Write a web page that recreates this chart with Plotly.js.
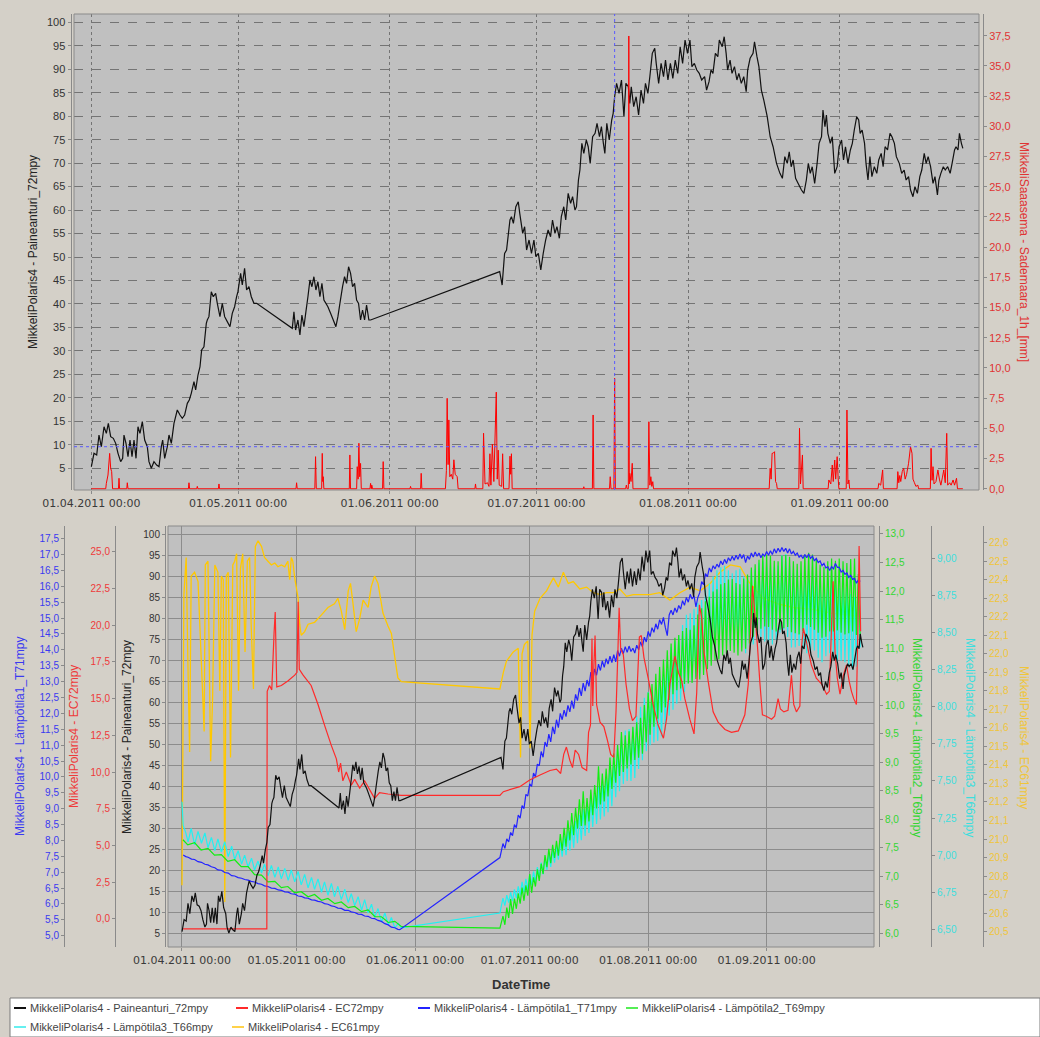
<!DOCTYPE html>
<html>
<head>
<meta charset="utf-8">
<script src="https://cdn.plot.ly/plotly-3.0.1.min.js"></script>
<style>
  html, body { margin: 0; padding: 0; background: #d4d0c8; }
  #chart { width: 1040px; height: 1037px; }
</style>
</head>
<body>
<div id="chart"></div>
<script>
// ---- Measurements, [day since 01.04.2011 00:00, value] ----

// MikkeliPolaris4 - Paineanturi_72mpy
const paineanturi = [
[0.01,5.34],[0.55,8.19],[1.10,7.83],[1.57,12.09],[2.05,9.60],[2.60,13.86],[3.07,12.45],[3.48,14.58],[3.96,11.73],[4.50,11.39],
[4.98,10.32],[5.46,8.19],[6.00,6.41],[6.41,7.13],[6.68,12.09],[7.09,10.32],[7.50,7.47],[7.91,11.03],[8.32,7.47],[8.73,11.03],
[9.14,7.13],[9.54,13.86],[9.95,12.45],[10.43,14.93],[10.91,11.03],[11.45,9.60],[11.79,6.41],[12.27,5.00],[12.81,6.41],[13.36,5.70],
[13.84,5.34],[14.31,9.60],[14.59,11.03],[15.00,7.13],[15.54,9.60],[15.88,12.09],[16.36,10.32],[16.90,14.58],[17.58,17.42],[18.13,16.35],
[18.60,15.65],[19.08,16.35],[19.63,18.84],[20.03,19.55],[20.44,20.97],[20.99,23.45],[21.33,21.68],[21.81,24.87],[22.22,26.64],[22.56,30.20],
[23.03,30.90],[23.51,35.88],[23.71,36.59],[24.05,37.30],[24.53,42.62],[24.94,41.55],[25.42,42.27],[25.76,40.14],[26.30,37.30],[26.78,40.14],
[27.26,37.30],[27.80,36.24],[28.35,35.16],[28.82,38.01],[29.30,39.42],[29.71,41.55],[29.98,42.62],[30.53,46.53],[30.87,44.04],[31.34,47.60],
[31.75,42.98],[32.23,43.68],[32.71,41.55],[33.25,40.14],[33.80,40.14],
[41.09,34.82],[41.43,38.36],[41.77,34.46],[42.24,36.59],[42.65,33.39],[43.06,37.65],[43.47,35.16],[43.88,38.36],[44.29,41.55],[44.70,45.11],
[45.11,43.68],[45.51,45.81],[45.92,42.98],[46.33,44.74],[46.74,41.55],[47.15,44.40],[47.56,40.85],[47.97,40.14],[48.37,39.42],[48.92,38.01],
[49.47,36.59],[50.01,35.16],[50.42,37.30],[50.83,40.14],[51.37,43.68],[51.78,45.81],[52.19,44.40],[52.60,47.94],[53.01,46.53],[53.42,43.68],
[53.83,44.40],[54.24,40.85],[54.64,40.14],[55.05,36.59],[55.46,38.72],[55.87,36.59],[56.28,39.78],[56.75,36.59],[57.10,36.59],
[83.5,46.90],[84.0,44.04],[84.5,50.79],[84.9,51.50],[85.6,57.89],[85.9,58.60],[86.3,57.18],[86.8,60.72],[87.3,61.78],[87.6,59.31],
[88.2,55.05],[88.6,56.46],[89.0,51.50],[89.5,53.63],[90.0,50.79],[90.5,53.63],[90.9,50.07],[91.4,50.79],[91.9,47.24],[92.4,50.79],
[92.9,53.63],[93.4,55.76],[93.9,54.34],[94.3,57.89],[94.8,55.05],[95.2,56.46],[95.7,53.99],[96.1,58.60],[96.6,60.72],[97.0,57.89],
[97.5,63.57],[98.0,61.43],[98.4,62.85],[98.9,60.01],[99.2,60.72],[99.6,66.41],[99.9,68.54],[100.3,74.22],[100.7,72.09],[101.2,74.93],
[101.6,73.50],[102.0,69.96],[102.5,75.63],[103.0,76.35],[103.4,78.48],[103.9,75.63],[104.3,77.77],[104.7,74.22],[105.0,72.09],[105.4,78.48],
[105.9,74.93],[106.4,79.19],[106.7,80.61],[107.0,84.15],[107.4,87.00],[107.9,84.87],[108.4,87.71],[108.9,79.90],[109.3,87.00],[109.8,86.28],
[110.1,82.74],[110.4,86.28],[110.9,82.03],[111.4,84.15],[111.9,80.25],[112.4,85.57],[112.9,82.74],[113.3,87.00],[113.8,84.87],[114.2,88.42],
[114.7,93.39],[115.2,94.46],[115.5,91.26],[116.0,87.00],[116.5,91.26],[117.0,88.42],[117.4,91.96],[117.9,87.71],[118.4,91.26],[118.9,88.07],
[119.4,91.96],[119.9,89.13],[120.4,94.80],[120.9,91.26],[121.4,96.22],[121.9,93.39],[122.4,96.22],[122.8,90.54],[123.3,91.26],[123.8,89.84],
[124.3,89.13],[124.8,87.71],[125.4,88.42],[125.8,85.57],[126.3,87.35],[126.7,89.84],[127.1,89.13],[127.6,93.39],[128.1,92.68],[128.4,96.22],
[129.0,94.80],[129.4,96.93],[129.8,93.39],[130.1,89.84],[130.6,91.96],[131.0,89.13],[131.5,90.55],[132.0,87.71],[132.4,89.13],[132.9,87.00],
[133.4,88.42],[133.9,85.22],[134.2,89.84],[134.7,92.33],[135.3,93.39],[135.6,95.86],[136.1,92.68],[136.5,90.55],[137.0,85.57],[137.5,83.44],
[138.2,79.89],[138.8,75.63],[139.4,73.50],[140.1,69.96],[140.8,67.83],[141.3,66.77],[141.8,71.38],[142.3,69.96],[142.7,72.43],[143.1,69.24],
[143.5,70.67],[144.0,66.77],[144.5,65.70],[145.2,64.28],[145.7,63.57],[146.2,66.41],[146.6,69.96],[147.0,67.83],[147.4,69.24],[147.9,65.70],
[148.4,69.96],[148.8,74.22],[149.3,75.63],[149.6,81.31],[150.0,77.76],[150.3,80.25],[150.6,76.35],[151.1,74.22],[151.5,75.63],[152.0,67.83],
[152.5,69.24],[152.9,73.50],[153.4,74.93],[153.8,70.67],[154.2,73.50],[154.7,69.96],[155.2,72.80],[155.6,74.22],[156.0,77.06],[156.5,79.89],
[156.9,79.18],[157.2,76.35],[157.6,77.06],[158.1,74.22],[158.4,69.96],[158.8,66.41],[159.2,71.38],[159.6,67.12],[160.1,69.24],[160.6,67.83],
[161.0,70.67],[161.5,72.09],[161.9,69.24],[162.3,73.50],[162.8,72.80],[163.3,76.35],[163.7,75.63],[164.2,74.22],[164.6,71.38],[165.2,69.96],
[165.7,67.83],[166.2,68.54],[166.6,66.41],[167.1,67.12],[167.5,64.28],[168.0,62.85],[168.4,64.99],[168.9,63.57],[169.4,67.12],[169.8,68.54],
[170.3,72.09],[170.7,69.96],[171.1,71.38],[171.6,69.24],[172.1,65.70],[172.5,67.12],[173.0,63.21],[173.3,66.41],[173.7,67.83],[174.2,69.24],
[174.6,68.54],[175.1,69.24],[175.6,67.83],[176.0,69.96],[176.5,72.80],[176.8,73.50],[177.2,72.80],[177.5,76.35],[177.9,74.22],[178.2,73.14]
];

// MikkeliSaaasema - Sademaara_1h_[mm]
const sademaara = [
[0,0],[2.95,0],[3.07,0.45],[3.41,1.14],[3.75,2.93],[3.96,1.70],[4.16,1.42],[4.35,0],[5.55,0],[5.66,0.87],[5.78,0],
[7.25,0],[7.36,0.5],[7.5,0],[19.85,0],[19.97,0.5],[20.1,0],[21.55,0],[21.67,0.2],[21.8,0],[25.98,0],[26.10,0.4],[26.22,0],
[41.85,0],[41.97,0.5],[42.1,0],[45.7,0],[45.85,2.66],[46.0,0],[47.1,0],[47.22,2.93],[47.32,0.6],[47.42,1.0],[47.55,0],
[52.75,0],[52.87,2.80],[53.0,0],[54.25,0],[54.37,1.83],[54.55,0.8],[54.71,3.77],[54.88,1.0],[55.05,2.1],[55.2,0],
[56.98,0],[57.10,0.45],[57.25,0],[57.35,0.3],[57.5,0],[59.55,0],[59.68,2.25],[59.82,0],[65.15,0],[65.27,0.2],[65.4,0],
[67.33,0],[67.45,1.28],[67.58,0],[72.4,0],[72.6,1.5],[72.76,7.49],[72.95,2.0],[73.10,5.7],[73.3,1.0],[73.6,1.2],[73.9,0.8],
[74.13,2.4],[74.4,1.2],[74.81,1.0],[75.0,0],[78.43,0],[78.55,0.4],[78.68,0],[80.05,0],[80.2,4.6],[80.5,0.4],[81.0,0.5],
[81.3,0.2],[81.5,2.9],[81.7,0.3],[82.0,3.7],[82.3,0.6],[82.8,8.0],[83.0,0.8],[83.2,3.2],[83.4,0.3],[83.9,0.2],[84.1,2.9],
[84.3,0],[85.4,0],[85.6,2.7],[85.75,1.2],[85.9,2.9],[86.05,0],[100.6,0],[100.7,0.17],[100.8,0],[102.45,0],[102.6,6.11],
[102.75,0],[105.95,0],[106.1,1.0],[106.25,0],[106.85,0],[107.0,9.15],[107.15,0],[109.25,0],[109.4,0.31],[109.55,0],
[109.8,0],[109.9,37.48],[110.0,0.4],[110.1,1.28],[110.35,0.6],[110.6,2.11],[110.75,0],[113.85,0],[114.0,5.55],[114.2,0.3],
[114.4,1.0],[114.6,0.2],[114.8,0.59],[114.95,0],[138.6,0],[138.8,1.70],[139.0,0.8],[139.2,2.94],[139.4,2.94],[139.7,3.07],
[139.9,0.6],[140.1,0.45],[140.25,0],[144.65,0],[144.8,5.01],[145.0,0.4],[145.4,2.80],[145.55,0],[150.65,0],[150.8,0.73],
[151.2,0.4],[151.5,1.97],[151.7,0.6],[152.0,2.38],[152.2,0.8],[152.5,2.66],[152.7,0.9],[152.85,0],[154.35,0],[154.5,6.52],
[154.7,0.4],[154.9,0.73],[155.05,0],[160.85,0],[161.0,0.45],[161.4,0.3],[161.8,1.56],[161.95,0],[164.75,0],[164.9,1.42],
[165.1,0.5],[165.3,1.1],[165.5,0.6],[165.8,1.42],[166.1,1.70],[166.4,0.8],[166.7,1.2],[167.1,2.11],[167.5,3.48],[167.8,2.94],
[168.0,0.8],[168.3,0.5],[168.6,0.2],[169.0,0.3],[169.15,0],[171.55,0],[171.7,3.35],[171.9,0.7],[172.1,1.83],[172.3,0.4],
[172.7,0.6],[173.1,1.56],[173.4,0.8],[173.7,0.3],[174.0,0.9],[174.3,1.56],[174.6,0.5],[174.9,4.59],[175.1,0.3],[175.5,0.5],
[175.8,0.3],[176.2,0.73],[176.5,0.3],[176.9,0.87],[177.1,0],[178.2,0]
];

// MikkeliPolaris4 - EC72mpy
const ec72 = [
[0.3,-0.70],[22.2,-0.70],[22.3,15.5],[22.9,15.9],[23.5,15.6],[24.1,19.5],[24.4,20.9],[24.8,15.8],[26.0,15.9],[27.7,16.2],
[29.5,16.6],[30.1,16.8],[30.4,21.6],[30.7,17.0],[31.7,16.6],[33.8,15.9],[35.6,14.6],[37.3,13.2],[39.1,11.8],[40.4,10.9],
[41.0,10.0],[41.5,10.6],[42.1,9.4],[43.0,10.0],[44.3,9.1],[45.2,9.5],[46.5,8.9],[47.8,9.4],[49.1,8.8],[50.4,8.2],
[51.7,8.6],[53.9,8.5],[57.4,8.4],[83.2,8.4],[84.1,8.66],[88.4,9.0],[91.0,9.45],[93.7,9.8],[96.3,10.1],[98.0,10.2],
[99.1,9.9],[99.9,11.2],[100.6,11.7],[101.5,10.8],[102.2,10.3],[102.9,11.5],[103.8,11.2],[104.7,10.3],[105.9,10.1],[106.4,12.7],
[106.9,13.2],[107.3,19.1],[107.5,14.5],[107.8,17.3],[108.1,19.3],[108.5,14.6],[109.4,13.4],[110.4,13.1],[111.3,12.2],[112.2,11.2],
[113.0,11.0],[113.6,14.2],[114.1,18.4],[114.4,21.2],[114.8,18.4],[115.5,18.0],[116.2,16.0],[117.1,14.3],[117.9,13.5],[118.8,13.8],
[119.3,16.8],[119.7,19.2],[120.2,19.3],[120.9,17.8],[122.0,16.4],[123.3,14.6],[124.6,13.2],[126.0,12.3],[126.8,13.6],[127.7,16.0],
[129.0,17.9],[129.9,16.8],[130.8,16.2],[131.6,15.0],[132.9,13.6],[134.0,12.6],[134.7,15.4],[135.4,21.4],[136.0,20.5],[136.6,18.2],
[137.7,16.2],[139.0,14.1],[140.3,13.4],[142.1,12.9],[143.8,12.7],[145.6,12.8],[147.3,13.9],[148.2,16.0],[148.8,19.6],[149.3,22.7],
[149.9,20.9],[150.6,18.6],[151.2,16.2],[151.9,13.9],[152.9,13.8],[154.3,13.6],[155.1,13.8],[156.0,15.0],[156.6,14.3],[157.5,14.1],
[158.6,14.2],[159.5,16.6],[160.1,14.6],[160.8,14.1],[161.7,14.5],[162.1,18.4],[162.6,19.8],[163.4,18.9],[164.7,17.3],[166.0,16.4],
[167.4,16.0],[168.7,15.3],[169.4,15.5],[170.0,20.0],[170.4,23.0],[170.9,18.2],[171.5,16.4],[172.2,15.3],[173.1,16.6],[173.9,17.3],
[174.6,16.2],[175.2,15.5],[175.8,15.0],[176.5,14.6],[176.9,20.0],[177.2,25.4],[177.6,19.6]
];

// MikkeliPolaris4 - EC61mpy
const ec61 = [
[0.0,20.75],[0.5,22.32],[1.1,22.52],[1.6,21.89],[2.0,21.47],[2.4,22.42],[3.3,22.44],[4.2,22.39],[5.1,21.94],[5.8,21.58],
[6.1,22.48],[6.8,22.50],[7.5,21.42],[8.0,21.75],[8.6,22.48],[9.4,22.44],[9.9,21.80],[10.3,22.42],[10.8,22.40],[11.2,20.66],
[11.6,22.42],[12.1,22.44],[12.7,21.44],[13.3,22.48],[13.8,22.50],[14.3,22.54],[14.8,21.80],[15.3,22.46],[15.9,22.54],[16.5,22.01],
[17.1,22.50],[17.7,22.52],[18.1,22.16],[18.7,21.81],[19.2,22.58],[19.9,22.61],[20.8,22.58],[21.6,22.52],[22.5,22.50],[23.4,22.48],
[24.3,22.49],[25.1,22.47],[26.0,22.48],[26.9,22.47],[27.7,22.50],[28.2,22.40],[28.6,22.52],[29.0,22.50],[29.5,22.41],[29.9,22.36],
[30.4,22.30],[30.8,22.16],[31.2,22.10],[32.1,22.12],[33.0,22.16],[34.7,22.17],[36.5,22.21],[38.2,22.25],[39.9,22.27],[40.8,22.30],
[41.7,22.23],[42.6,22.13],[43.5,22.34],[44.1,22.38],[44.7,22.28],[45.6,22.12],[46.5,22.19],[47.4,22.29],[48.7,22.25],[49.5,22.36],
[50.4,22.42],[51.3,22.38],[52.6,22.22],[53.9,22.15],[54.8,22.11],[55.7,21.98],[56.5,21.87],[57.4,21.85],[83.2,21.81],[84.1,21.90],
[84.9,21.96],[86.7,22.01],[88.0,22.03],[88.6,21.44],[89.0,22.00],[89.6,22.05],[90.5,22.07],[91.1,21.49],[91.6,22.10],[92.3,22.23],
[93.7,22.30],[95.4,22.34],[97.2,22.41],[98.5,22.36],[99.8,22.44],[101.1,22.38],[102.4,22.39],[104.1,22.35],[105.9,22.36],[107.6,22.33],
[109.4,22.32],[111.1,22.33],[112.9,22.33],[114.6,22.35],[116.3,22.31],[118.1,22.32],[119.8,22.32],[122.4,22.32],[125.0,22.33],[127.7,22.29],
[130.3,22.33],[133.0,22.36],[135.6,22.34],[138.2,22.38],[140.8,22.44],[143.5,22.48],[146.1,22.47],[148.3,22.39],[152.0,22.30],[156.0,22.27],
[160.0,22.25],[165.0,22.24],[170.0,22.22],[174.0,22.21],[177.6,22.20]
];

// Temperature sensors, spring part (irregular samples)
const t71Spring = [
[0.3,7.54],[1.0,7.49],[1.6,7.47],[2.5,7.41],[3.3,7.40],[4.2,7.33],[5.1,7.31],[6.0,7.25],[6.8,7.23],[7.7,7.17],
[8.6,7.14],[9.4,7.07],[10.3,7.06],[11.2,6.99],[12.1,6.97],[13.0,6.89],[13.8,6.88],[14.7,6.83],[15.6,6.81],[16.4,6.77],
[17.3,6.75],[18.1,6.71],[19.0,6.69],[19.9,6.64],[20.8,6.62],[21.6,6.57],[22.5,6.55],[23.4,6.50],[24.3,6.49],[25.2,6.44],
[26.0,6.43],[26.9,6.38],[27.8,6.37],[28.6,6.32],[29.5,6.31],[30.4,6.25],[31.2,6.24],[32.1,6.19],[33.0,6.18],[33.9,6.13],
[34.7,6.12],[35.6,6.08],[36.5,6.06],[37.3,6.01],[38.2,5.99],[39.1,5.94],[39.9,5.92],[40.8,5.87],[41.7,5.86],[42.6,5.80],
[43.5,5.80],[44.3,5.75],[45.2,5.73],[46.1,5.68],[47.0,5.67],[47.8,5.62],[48.7,5.61],[49.6,5.55],[50.4,5.54],[51.3,5.48],
[52.2,5.45],[53.1,5.38],[54.0,5.34],[54.8,5.27],[55.7,5.25],[56.5,5.20],[57.0,5.19],[83.2,7.46]
];
const t69Spring = [
[0.26,7.64],[1.5,7.55],[3.3,7.59],[5.0,7.46],[6.8,7.49],[8.5,7.37],[10.3,7.38],[12.0,7.26],[13.8,7.29],[15.5,7.17],
[17.3,7.17],[19.0,7.03],[20.8,7.02],[22.5,6.90],[24.3,6.91],[26.0,6.80],[27.7,6.82],[29.5,6.71],[31.2,6.73],[33.0,6.64],
[34.7,6.68],[36.5,6.58],[38.2,6.61],[40.0,6.52],[41.7,6.55],[43.5,6.45],[45.2,6.47],[47.0,6.38],[48.7,6.41],[50.5,6.29],
[52.2,6.29],[54.0,6.19],[55.7,6.21],[57.4,6.12],[83.2,6.09]
];
const t66Spring = [
[0.0,7.36],[0.3,7.20],[1.0,7.15],[1.6,7.09],[2.4,7.18],[3.3,7.07],[4.2,7.16],[5.1,7.08],[6.0,7.15],[6.8,7.05],
[7.7,7.12],[8.6,7.03],[9.4,7.11],[10.3,7.02],[11.2,7.09],[12.1,6.99],[13.0,7.06],[13.8,6.97],[14.7,7.03],[15.6,6.94],
[16.4,7.00],[17.3,6.92],[18.2,6.98],[19.0,6.90],[19.9,6.96],[20.8,6.88],[21.6,6.94],[22.5,6.86],[23.4,6.93],[24.3,6.85],
[25.2,6.92],[26.0,6.84],[26.9,6.91],[27.8,6.83],[28.6,6.90],[29.5,6.82],[30.4,6.89],[31.2,6.80],[32.1,6.87],[33.0,6.78],
[33.9,6.85],[34.7,6.77],[35.6,6.84],[36.5,6.75],[37.3,6.82],[38.2,6.73],[39.1,6.81],[39.9,6.72],[40.8,6.79],[41.7,6.70],
[42.6,6.77],[43.5,6.68],[44.3,6.74],[45.2,6.66],[46.1,6.72],[47.0,6.63],[47.8,6.70],[48.7,6.61],[49.6,6.67],[50.4,6.58],
[51.3,6.64],[52.2,6.55],[53.1,6.61],[54.0,6.53],[54.8,6.58],[55.7,6.51],[56.6,6.54],[57.4,6.51],[83.2,6.61]
];

// Temperature sensors, summer part: readings every 12 h from day 84
const summerStartDay = 84;
const summerStepDays = 0.5;
const t71Summer = [
7.90,7.75,8.05,7.95,8.25,8.15,8.50,8.40,8.80,8.70,
9.10,9.00,9.45,9.40,9.78,9.70,10.12,10.00,10.40,10.35,
10.80,10.62,11.10,10.95,11.35,11.10,11.58,11.35,11.80,11.55,
12.00,11.80,12.10,11.90,12.25,12.05,12.40,12.15,12.60,12.40,
12.80,12.55,12.95,12.70,13.05,12.85,13.30,13.05,13.40,13.20,
13.55,13.35,13.65,13.45,13.72,13.55,13.80,13.60,13.85,13.62,
13.98,13.80,14.05,13.88,14.10,13.92,14.12,13.95,14.05,13.90,
14.15,14.00,14.25,14.10,14.40,14.25,14.58,14.42,14.70,14.55,
14.82,14.65,14.95,14.80,15.02,14.70,14.45,15.10,15.25,15.10,
15.32,15.18,15.40,15.28,15.55,15.40,15.65,15.50,15.75,15.60,
15.70,15.35,15.65,15.80,16.15,16.05,16.40,16.30,16.58,16.45,
16.65,16.55,16.70,16.60,16.80,16.68,16.85,16.72,16.90,16.80,
16.95,16.82,16.98,16.85,17.02,16.88,17.00,16.75,16.95,16.85,
17.05,16.92,17.08,16.95,17.05,16.90,17.02,16.95,17.10,16.98,
17.12,17.00,17.18,17.05,17.20,17.08,17.22,17.10,17.20,17.05,
17.18,17.02,17.10,16.98,17.05,16.92,16.98,16.88,17.00,16.90,
17.02,16.88,16.95,16.80,16.88,16.75,16.80,16.65,16.72,16.58,
16.62,16.50,16.62,16.55,16.72,16.60,16.60,16.45,16.50,16.38,
16.42,16.28,16.35,16.22,16.25,16.10,16.20,16.15
];
const t69Summer = [
6.30,6.15,6.45,6.27,6.60,6.34,6.61,6.43,6.70,6.52,
6.80,6.57,6.84,6.66,7.04,6.71,6.98,6.82,7.12,6.92,
7.22,7.04,7.37,7.16,7.48,7.23,7.55,7.32,7.62,7.36,
7.74,7.45,7.85,7.52,7.98,7.63,8.11,7.72,8.20,7.84,
8.35,7.88,8.49,7.89,8.37,7.96,8.52,8.07,8.60,8.19,
8.93,8.26,8.80,8.31,8.89,8.40,9.08,8.53,9.15,8.64,
9.30,8.76,9.53,8.83,9.47,8.89,9.54,8.96,9.62,9.04,
9.70,9.08,9.78,9.15,10.00,9.35,10.22,9.48,10.37,9.62,
10.55,9.76,10.67,9.87,10.80,9.96,10.96,10.09,11.08,10.19,
11.18,10.26,11.23,10.29,11.30,10.37,11.35,10.38,11.32,10.39,
11.40,10.46,11.59,10.45,11.70,10.53,11.82,10.63,11.90,10.69,
11.99,10.78,12.03,10.80,12.12,10.87,12.14,10.89,12.20,10.95,
12.21,10.92,12.14,10.87,12.12,10.94,12.22,10.99,12.29,11.08,
12.41,11.20,12.47,11.26,12.55,11.34,12.63,11.38,12.63,11.37,
12.62,11.32,12.53,11.29,12.52,11.32,12.62,11.35,12.63,11.37,
12.60,11.28,12.52,11.26,12.48,11.24,12.52,11.30,12.64,11.41,
12.67,11.37,12.64,11.32,12.57,11.27,12.46,11.18,12.42,11.20,
12.52,11.29,12.57,11.29,12.53,11.31,12.57,11.27,12.52,11.24,
12.49,11.26,12.56,11.29,12.57,11.23,12.30,11.15
];
const t66Summer = [
6.71,6.66,6.73,6.68,6.75,6.69,6.77,6.71,6.79,6.73,
6.82,6.75,6.84,6.77,6.87,6.80,6.89,6.82,6.92,6.85,
6.95,6.87,6.98,6.90,7.01,6.92,7.03,6.95,7.06,6.97,
7.09,6.99,7.13,7.00,7.16,7.03,7.20,7.05,7.23,7.08,
7.27,7.10,7.31,7.13,7.35,7.15,7.38,7.19,7.41,7.21,
7.46,7.24,7.48,7.26,7.53,7.29,7.57,7.33,7.64,7.39,
7.72,7.43,7.80,7.48,7.84,7.50,7.85,7.50,7.86,7.52,
7.94,7.58,8.00,7.64,8.06,7.70,8.10,7.74,8.11,7.76,
8.13,7.77,8.18,7.80,8.22,7.84,8.32,7.94,8.40,7.98,
8.44,8.02,8.48,8.04,8.55,8.10,8.62,8.16,8.63,8.18,
8.66,8.20,8.70,8.22,8.72,8.26,8.79,8.31,8.83,8.35,
8.88,8.40,8.92,8.42,8.94,8.45,8.95,8.44,8.92,8.42,
8.90,8.41,8.92,8.43,8.93,8.40,8.88,8.36,8.86,8.40,
8.92,8.42,8.93,8.45,8.97,8.47,8.98,8.44,8.94,8.42,
8.90,8.42,8.94,8.45,8.95,8.50,9.02,8.52,9.03,8.47,
8.95,8.40,8.90,8.40,8.92,8.41,8.90,8.39,8.88,8.36,
8.86,8.37,8.88,8.38,8.89,8.33,8.82,8.30,8.80,8.34,
8.86,8.36,8.87,8.33,8.82,8.30,8.80,8.31,8.81,8.30,
8.80,8.28,8.76,8.25,8.74,8.27,8.76,8.40
];

// Month ticks on both time axes
const monthTicks = ['2011-04-01','2011-05-01','2011-06-01','2011-07-01','2011-08-01','2011-09-01'];

// ---- helpers ----
const DAY_MS = 86400000;
const T0 = Date.UTC(2011, 3, 1);
const stamp = d => new Date(T0 + Math.round(d * DAY_MS)).toISOString().slice(0, 16).replace('T', ' ');
const series = pairs => ({ x: pairs.map(p => stamp(p[0])), y: pairs.map(p => p[1]) });
function joined(pairs, start, step, vals) {
  return {
    x: pairs.map(p => stamp(p[0])).concat(vals.map((_, i) => stamp(start + i * step))),
    y: pairs.map(p => p[1]).concat(vals)
  };
}

const W = 1040, H = 1037;
const px = x => x / W;
const py = y => 1 - y / H;

// plot rectangles (pixels)
const TOP = { l: 74, r: 979, t: 14, b: 490 };
const BOT = { l: 168, r: 874, t: 526, b: 947 };

const FONT = 'Liberation Sans, Arial, Helvetica, sans-serif';
const C = {
  black: '#111111', rain: '#ff0000', ec72: '#ff2a2a', t71: '#2323ff',
  t69: '#11ee11', t66: '#22f0f0', ec61: '#ffc800'
};

const line = (color, width) => ({ color, width, simplify: false });

const traces = [
  Object.assign({ name: 'MikkeliPolaris4 - Paineanturi_72mpy', xaxis: 'x', yaxis: 'y', type: 'scatter', mode: 'lines', line: line(C.black, 1.2) }, series(paineanturi)),
  Object.assign({ name: 'MikkeliSaaasema - Sademaara_1h_[mm]', xaxis: 'x', yaxis: 'y2', type: 'scatter', mode: 'lines', line: line(C.rain, 1) }, series(sademaara)),
  Object.assign({ name: 'MikkeliPolaris4 - EC61mpy', xaxis: 'x2', yaxis: 'y3', type: 'scatter', mode: 'lines', line: line(C.ec61, 1.3) }, series(ec61)),
  Object.assign({ name: 'MikkeliPolaris4 - Lämpötila3_T66mpy', xaxis: 'x2', yaxis: 'y4', type: 'scatter', mode: 'lines', line: line(C.t66, 1.2) }, joined(t66Spring, summerStartDay, summerStepDays, t66Summer)),
  Object.assign({ name: 'MikkeliPolaris4 - Lämpötila2_T69mpy', xaxis: 'x2', yaxis: 'y5', type: 'scatter', mode: 'lines', line: line(C.t69, 1.2) }, joined(t69Spring, summerStartDay, summerStepDays, t69Summer)),
  Object.assign({ name: 'MikkeliPolaris4 - Lämpötila1_T71mpy', xaxis: 'x2', yaxis: 'y6', type: 'scatter', mode: 'lines', line: line(C.t71, 1.2) }, joined(t71Spring, summerStartDay, summerStepDays, t71Summer)),
  Object.assign({ name: 'MikkeliPolaris4 - EC72mpy', xaxis: 'x2', yaxis: 'y7', type: 'scatter', mode: 'lines', line: line(C.ec72, 1.2) }, series(ec72)),
  Object.assign({ name: 'MikkeliPolaris4 - Paineanturi_72mpy', xaxis: 'x2', yaxis: 'y8', type: 'scatter', mode: 'lines', line: line(C.black, 1.2) }, series(paineanturi))
];

function timeAxis(dom, anchor, d0, d1, gridColor, gridDash) {
  return {
    type: 'date', domain: dom, anchor: anchor,
    range: [stamp(d0), stamp(d1)],
    tickvals: monthTicks, tickformat: '%d.%m.%Y %H:%M',
    tickfont: { family: 'DejaVu Sans, ' + FONT, size: 11, color: '#3a3a3a' },
    ticks: 'outside', ticklen: 3, tickcolor: '#8a8a8a',
    showgrid: true, gridcolor: gridColor, griddash: gridDash, gridwidth: 1,
    showline: false, zeroline: false, fixedrange: true
  };
}
function valueAxis(opts) {
  return Object.assign({
    anchor: 'free', zeroline: false, showgrid: false,
    showline: true, linecolor: '#8a8a8a', linewidth: 1,
    ticks: 'outside', ticklen: 3, tickcolor: '#8a8a8a',
    fixedrange: true
  }, opts);
}

const topY = [py(TOP.b), py(TOP.t)];
const botY = [py(BOT.b), py(BOT.t)];

const layout = {
  width: W, height: H, autosize: false,
  margin: { l: 0, r: 0, t: 0, b: 0, pad: 0 },
  paper_bgcolor: '#d4d0c8', plot_bgcolor: '#c0c0c0',
  separators: ', ',
  showlegend: false,
  font: { family: FONT, size: 11, color: '#333' },

  xaxis: timeAxis([px(TOP.l), px(TOP.r)], 'y', -3.54, 181.5, '#747474', 'dot'),
  yaxis: valueAxis({
    domain: topY, position: px(70.5), side: 'left',
    range: [0.38, 101.77], tick0: 5, dtick: 5,
    showgrid: true, gridcolor: '#747474', griddash: 'dash',
    tickfont: { family: FONT, size: 11, color: '#333' }
  }),
  yaxis2: valueAxis({
    domain: topY, overlaying: 'y', position: px(983), side: 'right',
    range: [-0.1, 39.3], tick0: 0, dtick: 2.5, tickformat: '.1f',
    tickfont: { family: FONT, size: 11, color: '#e03333' }
  }),

  xaxis2: timeAxis([px(BOT.l), px(BOT.r)], 'y3', -3.66, 181.1, '#8c8c8c', 'solid'),
  // EC61 (base of the lower plot)
  yaxis3: valueAxis({
    domain: botY, position: px(983), side: 'right',
    range: [20.417, 22.69], tick0: 20.5, dtick: 0.1, tickformat: '.1f',
    tickfont: { family: FONT, size: 10, color: '#f0c53a' }
  }),
  // Lämpötila3
  yaxis4: valueAxis({
    domain: botY, overlaying: 'y3', position: px(931), side: 'right',
    range: [6.381, 9.218], tick0: 6.5, dtick: 0.25, tickformat: '.2f',
    tickfont: { family: FONT, size: 10, color: '#3cdede' }
  }),
  // Lämpötila2
  yaxis5: valueAxis({
    domain: botY, overlaying: 'y3', position: px(879), side: 'right',
    range: [5.76, 13.14], tick0: 6, dtick: 0.5, tickformat: '.1f',
    tickfont: { family: FONT, size: 10, color: '#33d633' }
  }),
  // Lämpötila1
  yaxis6: valueAxis({
    domain: botY, overlaying: 'y3', position: px(64), side: 'left',
    range: [4.644, 17.9], tick0: 5, dtick: 0.5, tickformat: '.1f',
    tickfont: { family: FONT, size: 10, color: '#3a3af0' }
  }),
  // EC72
  yaxis7: valueAxis({
    domain: botY, overlaying: 'y3', position: px(115), side: 'left',
    range: [-1.93, 26.77], tick0: 0, dtick: 2.5, tickformat: '.1f',
    tickfont: { family: FONT, size: 10, color: '#ee3a3a' }
  }),
  // Paineanturi
  yaxis8: valueAxis({
    domain: botY, overlaying: 'y3', position: px(165), side: 'left',
    range: [1.66, 102.1], tick0: 5, dtick: 5,
    showgrid: true, gridcolor: '#8c8c8c',
    tickfont: { family: FONT, size: 10, color: '#333' }
  }),

  shapes: [
    // plot frames
    { type: 'rect', xref: 'paper', yref: 'paper', x0: px(TOP.l), x1: px(TOP.r), y0: py(TOP.b), y1: py(TOP.t), line: { color: '#8a8a8a', width: 1 } },
    { type: 'rect', xref: 'paper', yref: 'paper', x0: px(BOT.l), x1: px(BOT.r), y0: py(BOT.b), y1: py(BOT.t), line: { color: '#8a8a8a', width: 1 } },
    // crosshair on the upper plot
    { type: 'line', xref: 'x', yref: 'paper', x0: stamp(107.0), x1: stamp(107.0), y0: py(TOP.b), y1: py(TOP.t), line: { color: '#5a5aff', width: 1, dash: 'dot' } },
    { type: 'line', xref: 'paper', yref: 'y', x0: px(TOP.l), x1: px(TOP.r), y0: 9.6, y1: 9.6, line: { color: '#5a5aff', width: 1, dash: 'dot' } },
    // legend panel
    { type: 'rect', xref: 'paper', yref: 'paper', x0: px(10), x1: px(1040), y0: py(1037), y1: py(998), fillcolor: '#ffffff', line: { color: '#7a7a7a', width: 1 } }
  ],
  annotations: []
};

// axis titles
const titles = [
  { text: 'MikkeliPolaris4 - Paineanturi_72mpy', x: 33, y: 252, angle: -90, color: '#222', size: 12 },
  { text: 'MikkeliSaaasema - Sademaara_1h_[mm]', x: 1024, y: 252, angle: 90, color: '#e03333', size: 12 },
  { text: 'MikkeliPolaris4 - Lämpötila1_T71mpy', x: 20, y: 737, angle: -90, color: '#3a3af0', size: 12 },
  { text: 'MikkeliPolaris4 - EC72mpy', x: 74, y: 737, angle: -90, color: '#ee3a3a', size: 12 },
  { text: 'MikkeliPolaris4 - Paineanturi_72mpy', x: 127, y: 737, angle: -90, color: '#222', size: 12 },
  { text: 'MikkeliPolaris4 - Lämpötila2_T69mpy', x: 917, y: 737, angle: 90, color: '#33d633', size: 12 },
  { text: 'MikkeliPolaris4 - Lämpötila3_T66mpy', x: 970, y: 737, angle: 90, color: '#3cdede', size: 12 },
  { text: 'MikkeliPolaris4 - EC61mpy', x: 1024, y: 737, angle: 90, color: '#f0c53a', size: 12 }
];
titles.forEach(t => layout.annotations.push({
  text: t.text, xref: 'paper', yref: 'paper', x: px(t.x), y: py(t.y),
  xanchor: 'center', yanchor: 'middle', textangle: t.angle, showarrow: false,
  font: { family: FONT, size: t.size, color: t.color }
}));
layout.annotations.push({
  text: '<b>DateTime</b>', xref: 'paper', yref: 'paper', x: px(521), y: py(984),
  xanchor: 'center', yanchor: 'middle', showarrow: false,
  font: { family: 'Liberation Sans Narrow, ' + FONT, size: 13, color: '#333' }
});

// legend entries
const legendEntries = [
  { label: 'MikkeliPolaris4 - Paineanturi_72mpy', color: C.black, x: 14, y: 1008 },
  { label: 'MikkeliPolaris4 - EC72mpy', color: C.ec72, x: 236, y: 1008 },
  { label: 'MikkeliPolaris4 - Lämpötila1_T71mpy', color: C.t71, x: 418, y: 1008 },
  { label: 'MikkeliPolaris4 - Lämpötila2_T69mpy', color: '#55ee55', x: 626, y: 1008 },
  { label: 'MikkeliPolaris4 - Lämpötila3_T66mpy', color: '#66f0f0', x: 14, y: 1027 },
  { label: 'MikkeliPolaris4 - EC61mpy', color: '#ffd24a', x: 232, y: 1027 }
];
legendEntries.forEach(e => {
  layout.shapes.push({ type: 'line', xref: 'paper', yref: 'paper', x0: px(e.x), x1: px(e.x + 12), y0: py(e.y), y1: py(e.y), line: { color: e.color, width: 2 } });
  layout.annotations.push({
    text: e.label, xref: 'paper', yref: 'paper', x: px(e.x + 14), y: py(e.y),
    xanchor: 'left', yanchor: 'middle', showarrow: false,
    font: { family: FONT, size: 11, color: '#444' }
  });
});

Plotly.newPlot('chart', traces, layout, { staticPlot: true, displayModeBar: false });
</script>
</body>
</html>
